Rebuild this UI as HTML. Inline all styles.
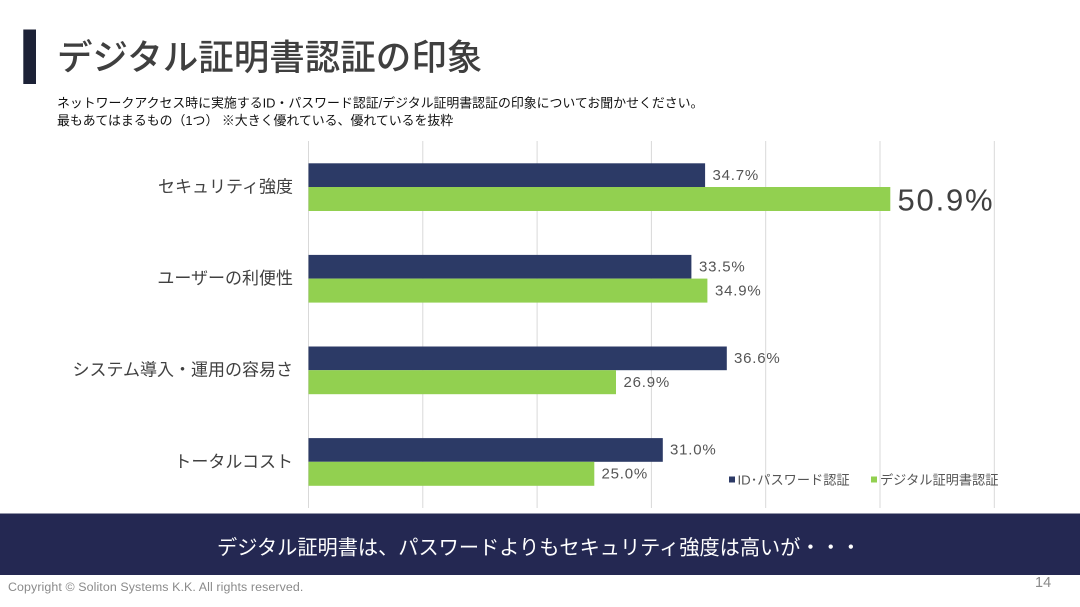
<!DOCTYPE html>
<html>
<head>
<meta charset="utf-8">
<style>
html,body{margin:0;padding:0;background:#fff;}
body{width:1080px;height:607px;overflow:hidden;position:relative;font-family:"Liberation Sans","Noto Sans CJK JP",sans-serif;}
svg{position:absolute;left:0;top:0;}
.jp{font-family:"Liberation Sans","Noto Sans CJK JP",sans-serif;}
</style>
</head>
<body>
<svg width="1080" height="607" viewBox="0 0 1080 607" xmlns="http://www.w3.org/2000/svg">
  <!-- title bar -->
  <rect x="23.3" y="29.5" width="12.7" height="54.5" fill="#1c2136"/>
  <text class="jp" x="57" y="57.5" dominant-baseline="central" font-size="35.5" fill="#3f3f3f" font-weight="500">デジタル証明書認証の印象</text>
  <text class="jp" x="57" y="103" dominant-baseline="central" font-size="12.9" fill="#111">ネットワークアクセス時に実施するID・パスワード認証/デジタル証明書認証の印象についてお聞かせください。</text>
  <text class="jp" x="57" y="120.5" dominant-baseline="central" font-size="12.9" fill="#111">最もあてはまるもの（1つ） ※大きく優れている、優れているを抜粋</text>

  <!-- gridlines -->
  <g stroke="#d9d9d9" stroke-width="1">
    <line x1="308.5" y1="141" x2="308.5" y2="508"/>
    <line x1="422.8" y1="141" x2="422.8" y2="508"/>
    <line x1="537.1" y1="141" x2="537.1" y2="508"/>
    <line x1="651.4" y1="141" x2="651.4" y2="508"/>
    <line x1="765.7" y1="141" x2="765.7" y2="508"/>
    <line x1="880" y1="141" x2="880" y2="508"/>
    <line x1="994.3" y1="141" x2="994.3" y2="508"/>
  </g>

  <!-- bars -->
  <g>
    <rect x="308.5" y="163.3" width="396.6" height="23.7" fill="#2c3a66"/>
    <rect x="308.5" y="187" width="581.8" height="24" fill="#92d050"/>
    <rect x="308.5" y="254.9" width="382.9" height="23.7" fill="#2c3a66"/>
    <rect x="308.5" y="278.6" width="398.9" height="24" fill="#92d050"/>
    <rect x="308.5" y="346.5" width="418.3" height="23.7" fill="#2c3a66"/>
    <rect x="308.5" y="370.2" width="307.5" height="24" fill="#92d050"/>
    <rect x="308.5" y="438.1" width="354.3" height="23.7" fill="#2c3a66"/>
    <rect x="308.5" y="461.8" width="285.8" height="24" fill="#92d050"/>
  </g>

  <!-- category labels -->
  <g class="jp" font-size="17" fill="#404040" text-anchor="end">
    <text x="293" y="187" dominant-baseline="central">セキュリティ強度</text>
    <text x="293" y="278.6" dominant-baseline="central">ユーザーの利便性</text>
    <text x="293" y="370.2" dominant-baseline="central">システム導入・運用の容易さ</text>
    <text x="293" y="461.8" dominant-baseline="central">トータルコスト</text>
  </g>

  <!-- data labels -->
  <g font-family="Liberation Sans, sans-serif" font-size="15" fill="#555" letter-spacing="0.8">
    <text x="712.5" y="175.5" dominant-baseline="central">34.7%</text>
    <text x="699" y="267" dominant-baseline="central">33.5%</text>
    <text x="715" y="291" dominant-baseline="central">34.9%</text>
    <text x="734" y="358.5" dominant-baseline="central">36.6%</text>
    <text x="623.5" y="382.5" dominant-baseline="central">26.9%</text>
    <text x="670" y="450" dominant-baseline="central">31.0%</text>
    <text x="601.5" y="474" dominant-baseline="central">25.0%</text>
  </g>
  <text x="897.5" y="200" dominant-baseline="central" font-family="Liberation Sans, sans-serif" font-size="31" fill="#404040" letter-spacing="1.8">50.9%</text>

  <!-- legend -->
  <rect x="729" y="476.5" width="6" height="6" fill="#2c3a66"/>
  <text class="jp" x="737.5" y="480" dominant-baseline="central" font-size="13.2" fill="#555">ID･パスワード認証</text>
  <rect x="871" y="476.5" width="6" height="6" fill="#92d050"/>
  <text class="jp" x="880" y="480" dominant-baseline="central" font-size="13.2" fill="#555">デジタル証明書認証</text>

  <!-- banner -->
  <rect x="0" y="513.5" width="1080" height="61.5" fill="#242852"/>
  <text class="jp" x="539" y="548.5" dominant-baseline="central" text-anchor="middle" font-size="20.2" fill="#ffffff">デジタル証明書は、パスワードよりもセキュリティ強度は高いが・・・</text>

  <!-- footer -->
  <text x="8" y="587" dominant-baseline="central" font-family="Liberation Sans, sans-serif" font-size="12.4" fill="#8a8a8a" letter-spacing="0.1">Copyright © Soliton Systems K.K. All rights reserved.</text>
  <text x="1035" y="583" dominant-baseline="central" font-family="Liberation Sans, sans-serif" font-size="14.5" fill="#8a8a8a">14</text>
</svg>
</body>
</html>
